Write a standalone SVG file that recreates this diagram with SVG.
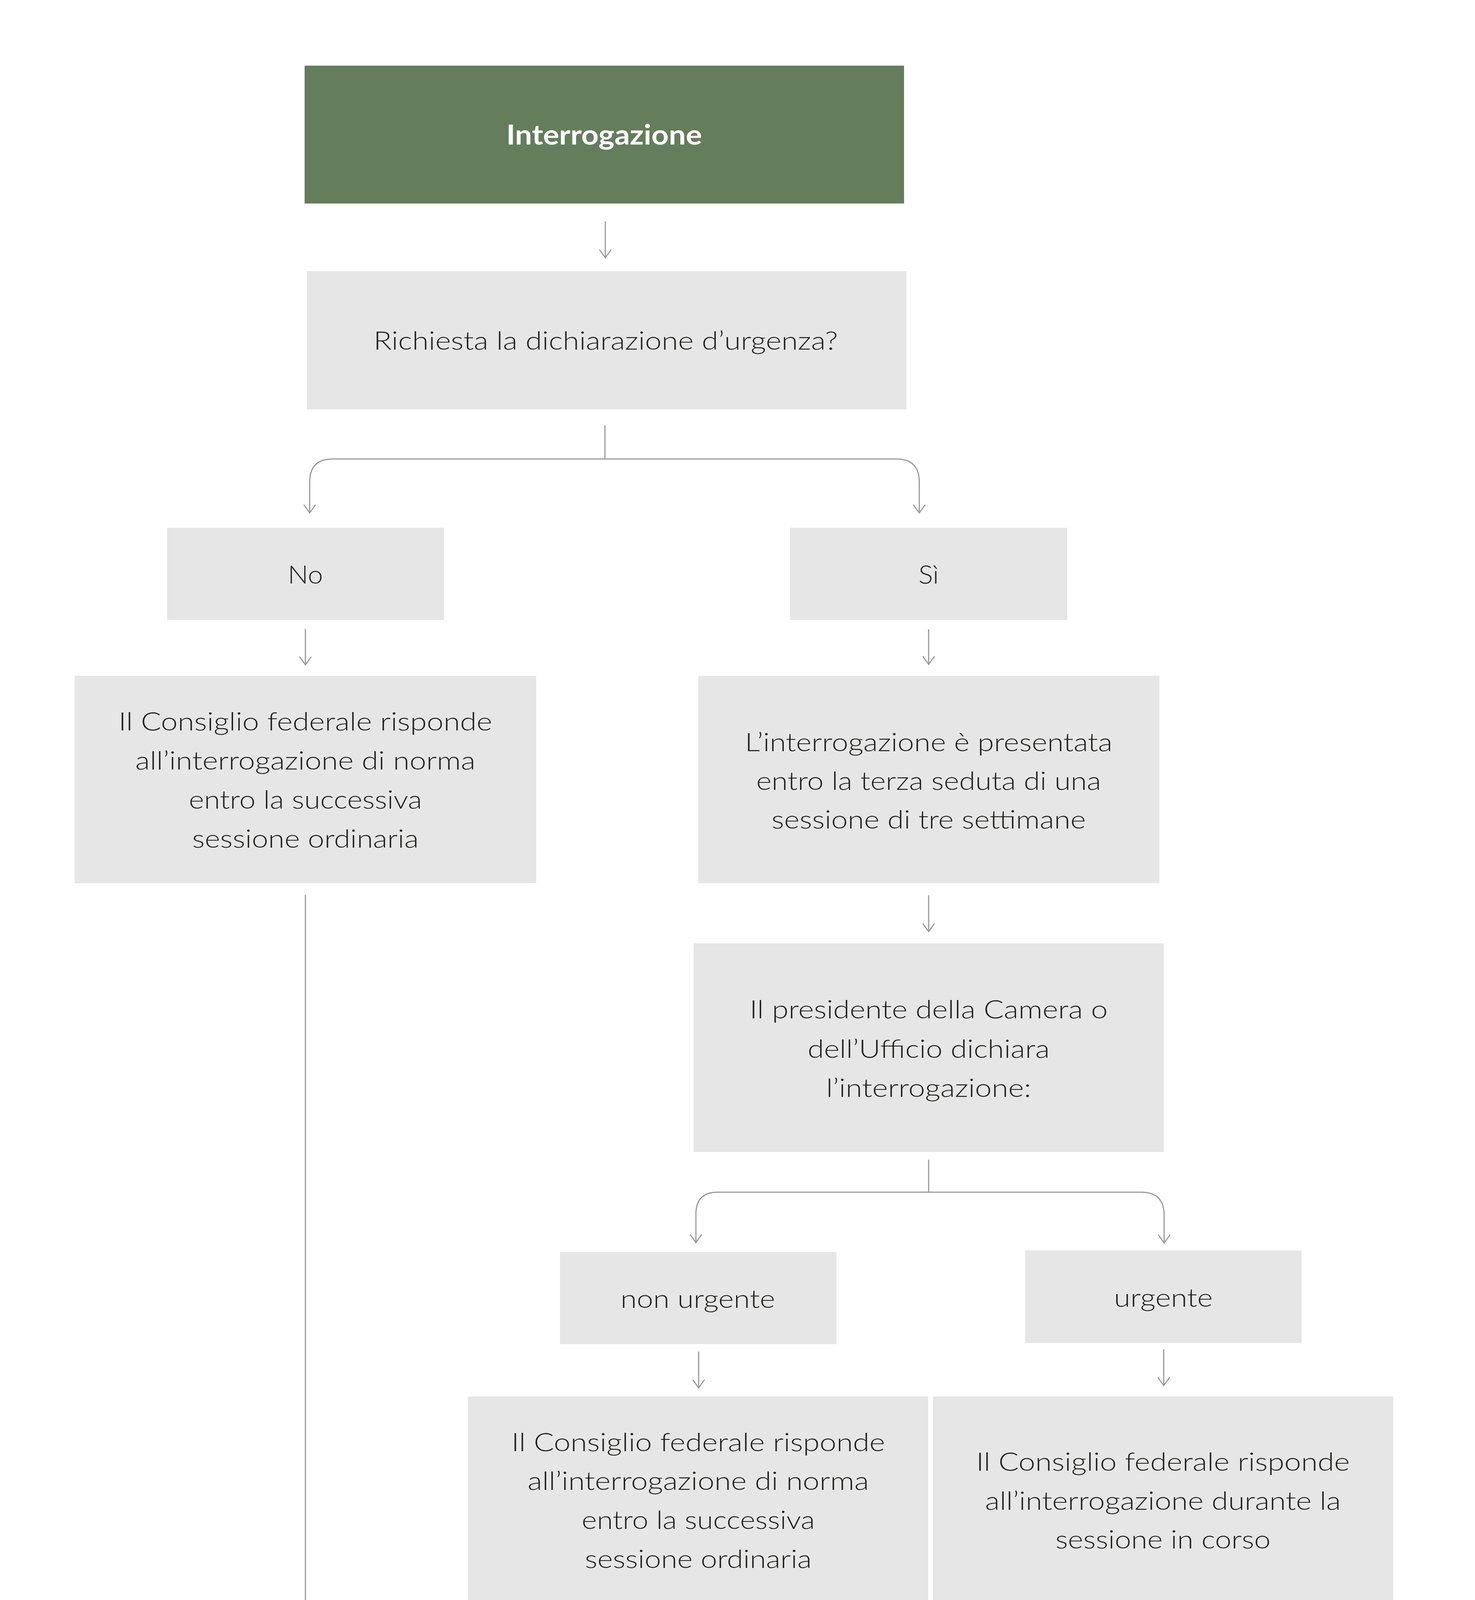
<svg xmlns="http://www.w3.org/2000/svg" width="3777" height="4633" viewBox="0 0 3777 4633">
<style>
.box{fill:#e6e6e6}
.green{fill:#647d5b}
.t{font-family:Lato,"Open Sans","Liberation Sans",sans-serif;font-size:66px;font-weight:300;fill:#1d1d1b;text-anchor:middle}
.title{font-family:Lato,"Open Sans","Liberation Sans",sans-serif;font-size:70px;font-weight:700;fill:#ffffff;text-anchor:middle}
.c{fill:none;stroke:#999999;stroke-width:3}
</style>
<defs>
<marker id="ah" markerUnits="userSpaceOnUse" markerWidth="26" markerHeight="36" viewBox="0 0 26 36" refX="23" refY="18" orient="auto">
<path d="M2,3 L23,18 L2,33" fill="none" stroke="#999999" stroke-width="3"/>
</marker>
</defs>
<rect width="3777" height="4633" fill="#ffffff"/>
<g id="connectors">
<path class="c" d="M1550,567 V660" marker-end="url(#ah)"/>
<path class="c" d="M1549,1089 V1175"/>
<path class="c" d="M1549,1175 H852 Q793,1175 793,1234 V1313" marker-end="url(#ah)"/>
<path class="c" d="M1549,1175 H2295 Q2354,1175 2354,1234 V1313" marker-end="url(#ah)"/>
<path class="c" d="M782,1610 V1702" marker-end="url(#ah)"/>
<path class="c" d="M2378,1611 V1701" marker-end="url(#ah)"/>
<path class="c" d="M782,2291 V4224" marker-end="url(#ah)"/>
<path class="c" d="M2378,2292 V2385" marker-end="url(#ah)"/>
<path class="c" d="M2378,2969 V3052"/>
<path class="c" d="M2378,3052 H1838 Q1782,3052 1782,3108 V3181" marker-end="url(#ah)"/>
<path class="c" d="M2378,3052 H2922 Q2981,3052 2981,3111 V3182" marker-end="url(#ah)"/>
<path class="c" d="M1789,3460 V3553" marker-end="url(#ah)"/>
<path class="c" d="M2980,3454 V3547" marker-end="url(#ah)"/>
<path class="c" d="M1788,4127 V4219" marker-end="url(#ah)"/>
<path class="c" d="M2980,4127 V4219" marker-end="url(#ah)"/>
</g>
<g id="n-interrogazione">
<rect class="green" x="780" y="168" width="1535" height="353"/>
<text class="title" x="1547" y="370" textLength="501" lengthAdjust="spacingAndGlyphs">Interrogazione</text>
</g>
<g id="n-richiesta">
<rect class="box" x="786" y="694" width="1535" height="354"/>
<text class="t" x="1551" y="895" textLength="1189" lengthAdjust="spacingAndGlyphs">Richiesta la dichiarazione d’urgenza?</text>
</g>
<g id="n-no">
<rect class="box" x="428" y="1351" width="709" height="236"/>
<text class="t" x="782" y="1494" textLength="90" lengthAdjust="spacingAndGlyphs">No</text>
</g>
<g id="n-si">
<rect class="box" x="2023" y="1351" width="710" height="236"/>
<text class="t" x="2378" y="1494" textLength="52" lengthAdjust="spacingAndGlyphs">Sì</text>
</g>
<g id="n-risponde-no">
<rect class="box" x="191" y="1730" width="1182" height="531"/>
<text class="t" x="782" y="1870" textLength="957" lengthAdjust="spacingAndGlyphs">Il Consiglio federale risponde</text>
<text class="t" x="782" y="1970" textLength="871" lengthAdjust="spacingAndGlyphs">all’interrogazione di norma</text>
<text class="t" x="782" y="2070" textLength="597" lengthAdjust="spacingAndGlyphs">entro la successiva</text>
<text class="t" x="782" y="2170" textLength="580" lengthAdjust="spacingAndGlyphs">sessione ordinaria</text>
</g>
<g id="n-presentata">
<rect class="box" x="1788" y="1730" width="1181" height="531"/>
<text class="t" x="2378" y="1923" textLength="941" lengthAdjust="spacingAndGlyphs">L’interrogazione è presentata</text>
<text class="t" x="2378" y="2022" textLength="883" lengthAdjust="spacingAndGlyphs">entro la terza seduta di una</text>
<text class="t" x="2378" y="2121" textLength="805" lengthAdjust="spacingAndGlyphs">sessione di tre settimane</text>
</g>
<g id="n-presidente">
<rect class="box" x="1776" y="2415" width="1204" height="534"/>
<text class="t" x="2378" y="2607" textLength="917" lengthAdjust="spacingAndGlyphs">Il presidente della Camera o</text>
<text class="t" x="2378" y="2708" textLength="620" lengthAdjust="spacingAndGlyphs">dell’Ufficio dichiara</text>
<text class="t" x="2378" y="2808" textLength="525" lengthAdjust="spacingAndGlyphs">l’interrogazione:</text>
</g>
<g id="n-non-urgente">
<rect class="box" x="1434" y="3205" width="708" height="236"/>
<text class="t" x="1787" y="3348" textLength="396" lengthAdjust="spacingAndGlyphs">non urgente</text>
</g>
<g id="n-urgente">
<rect class="box" x="2625" y="3201" width="708" height="237"/>
<text class="t" x="2979" y="3345" textLength="253" lengthAdjust="spacingAndGlyphs">urgente</text>
</g>
<g id="n-risponde-non-urgente">
<rect class="box" x="1198" y="3575" width="1179" height="530"/>
<text class="t" x="1788" y="3715" textLength="957" lengthAdjust="spacingAndGlyphs">Il Consiglio federale risponde</text>
<text class="t" x="1788" y="3814" textLength="874" lengthAdjust="spacingAndGlyphs">all’interrogazione di norma</text>
<text class="t" x="1788" y="3914" textLength="597" lengthAdjust="spacingAndGlyphs">entro la successiva</text>
<text class="t" x="1788" y="4014" textLength="581" lengthAdjust="spacingAndGlyphs">sessione ordinaria</text>
</g>
<g id="n-risponde-urgente">
<rect class="box" x="2389" y="3575" width="1179" height="530"/>
<text class="t" x="2978" y="3765" textLength="957" lengthAdjust="spacingAndGlyphs">Il Consiglio federale risponde</text>
<text class="t" x="2978" y="3865" textLength="911" lengthAdjust="spacingAndGlyphs">all’interrogazione durante la</text>
<text class="t" x="2978" y="3964" textLength="551" lengthAdjust="spacingAndGlyphs">sessione in corso</text>
</g>
<g id="n-liquidata-1">
<rect class="box" x="423" y="4245" width="708" height="236"/>
<text class="t" x="777" y="4392" textLength="294" lengthAdjust="spacingAndGlyphs">Liquidata</text>
</g>
<g id="n-liquidata-2">
<rect class="box" x="1434" y="4245" width="707" height="236"/>
<text class="t" x="1788" y="4390" textLength="299" lengthAdjust="spacingAndGlyphs">Liquidata</text>
</g>
<g id="n-liquidata-3">
<rect class="box" x="2625" y="4245" width="707" height="236"/>
<text class="t" x="2978" y="4390" textLength="298" lengthAdjust="spacingAndGlyphs">Liquidata</text>
</g>
</svg>
